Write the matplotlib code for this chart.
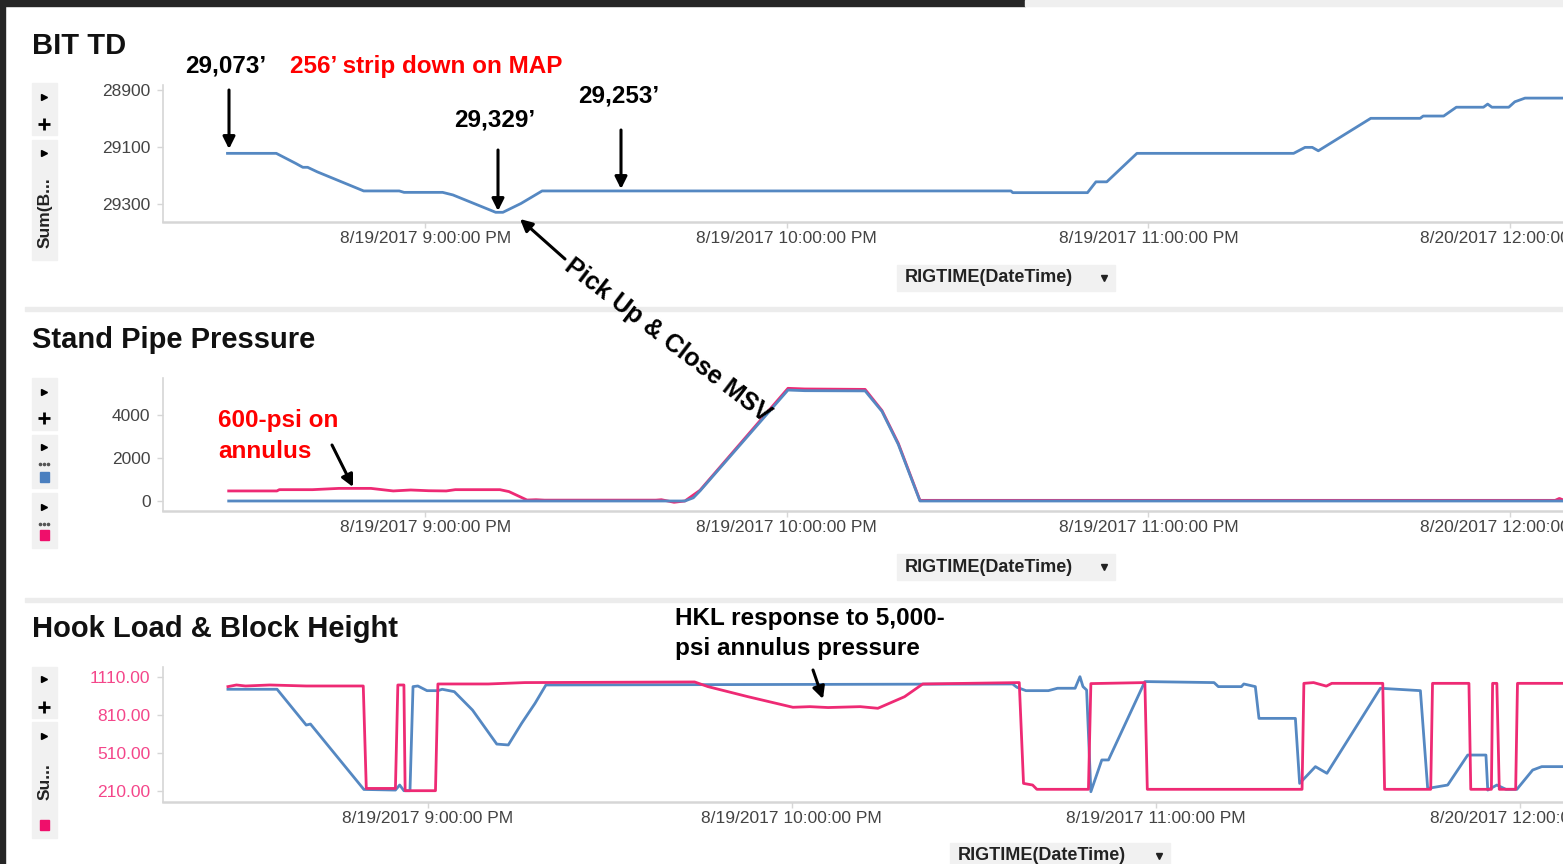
import matplotlib

matplotlib.use("Agg")

import matplotlib.pyplot as plt
from matplotlib.patches import Rectangle

plt.rcParams["font.family"] = ["Liberation Sans", "DejaVu Sans"]

W, H = 1563, 864

# x values: minutes after 8/19/2017 9:00:00 PM
hour_ticks = [0, 60, 120, 180]
hour_labels = [
    "8/19/2017 9:00:00 PM",
    "8/19/2017 10:00:00 PM",
    "8/19/2017 11:00:00 PM",
    "8/20/2017 12:00:00 AM",
]

# BIT TD (ft)
bit_min = [-32.8, -24.7, -21.5, -20.3, -19.5, -17.9, -10.2, -4.3, -3.5, 2.9, 4.6, 11.7, 12.9,
           15.9, 19.4, 97.2, 97.5, 109.9, 111.3, 113.1, 118.1, 144.1, 146.0, 147.2, 148.2, 156.9,
           165.1, 165.6, 169.0, 171.1, 175.6, 176.3, 177.0, 179.8, 180.8, 182.5, 190]
bit_depth = [29121, 29121, 29156, 29170, 29170, 29186, 29253, 29253, 29258, 29258, 29267, 29328, 29328,
             29297, 29253, 29253, 29259, 29259, 29221, 29221, 29121, 29121, 29100, 29100, 29112, 28998,
             28998, 28990, 28990, 28959, 28959, 28948, 28959, 28959, 28940, 28927, 28927]
bit_ticks = [28900, 29100, 29300]

# Stand pipe pressure (psi)
spp_min = [-32.6, 43.1, 44.5, 45.6, 60.2, 63.0, 73.0, 75.8, 78.5, 82.1, 190]
spp_psi = [0, 0, 150, 470, 5190, 5160, 5150, 4190, 2650, 0, 0]
ann_min = [-32.6, -24.6, -24.2, -18.7, -14.3, -9.0, -5.3, -2.4, 0.6, 3.5, 5.0, 12.4, 13.9, 16.9,
           18.4, 19.8, 38.3, 39.2, 41.3, 43.1, 45.6, 60.2, 63.0, 73.0, 75.8, 78.5, 82.1, 187.5,
           188.2, 189]
ann_psi = [470, 470, 530, 530, 590, 590, 470, 515, 480, 470, 530, 530, 440, 45,
           60, 40, 40, 60, -60, 0, 500, 5270, 5240, 5220, 4230, 2700, 30, 30,
           120, 30]
spp_ticks = [0, 2000, 4000]

# Hook load (pink) and block height (blue)
hkl_min = [-32.9, -31.5, -30.0, -26.0, -20.0, -10.6, -10.1, -5.3, -4.9, -3.9, -3.7, 1.3, 1.7, 10.0,
           16.0, 44.0, 46.2, 52.8, 60.2, 63.0, 66.0, 71.3, 74.2, 78.6, 81.6, 97.5, 98.2, 99.7,
           100.4, 108.9, 109.3, 118.2, 118.6, 144.1, 144.4, 146.0, 148.1, 149.0, 157.4, 157.7,
           165.3, 165.6, 171.6, 171.9, 175.3, 175.5, 176.2, 176.6, 179.3, 179.6, 190]
hkl_val = [1036, 1049, 1041, 1049, 1041, 1041, 228, 228, 1049, 1049, 210, 210, 1057, 1057,
           1068, 1073, 1036, 956, 872, 877, 870, 877, 864, 956, 1057, 1068, 268, 255,
           221, 221, 1060, 1068, 221, 221, 1062, 1068, 1040, 1062, 1062, 221,
           221, 1062, 1062, 221, 221, 1062, 1062, 221, 221, 1062, 1062]
blk_min = [-32.9, -24.8, -20.0, -19.3, -10.5, -5.3, -4.6, -3.9, -2.9, -2.4, -1.6, -0.1, 1.7, 2.4,
           4.4, 7.4, 11.4, 13.3, 15.5, 17.7, 19.5, 96.4, 97.1, 98.6, 102.3, 103.8, 106.7, 107.5,
           108.0, 108.6, 109.3, 111.1, 112.2, 118.2, 129.6, 130.3, 134.1, 134.5, 136.4, 137.0,
           143.0, 143.7, 146.3, 148.2, 157.0, 163.6, 164.8, 168.1, 171.4, 174.4, 174.7, 176.2,
           177.7, 179.5, 182.1, 183.6, 190]
blk_val = [1015, 1015, 731, 739, 220, 215, 255, 210, 210, 1036, 1041, 1004, 1004, 1015,
           996, 850, 580, 573, 745, 903, 1049, 1057, 1031, 1004, 1004, 1023, 1023, 1115,
           1036, 1009, 202, 454, 454, 1076, 1068, 1036, 1036, 1057, 1036, 784,
           784, 268, 401, 348, 1023, 1004, 228, 255, 493, 493, 215, 255,
           221, 221, 374, 401, 401]
hkl_ticks = [210, 510, 810, 1110]

BLUE = "#5588c2"
PINK = "#ee2a74"
GRID = "#d6d6d6"


def px_box(left, top, right, bottom):
    return [left / W, 1 - bottom / H, (right - left) / W, (bottom - top) / H]


def style_axes(ax, xlim, ylim, yticks, ylabels, ycolor="#444444"):
    ax.set_xlim(*xlim)
    ax.set_ylim(*ylim)
    for side in ("top", "right"):
        ax.spines[side].set_visible(False)
    ax.spines["left"].set_color(GRID)
    ax.spines["left"].set_linewidth(1.2)
    ax.spines["bottom"].set_color(GRID)
    ax.spines["bottom"].set_linewidth(1.8)
    ax.set_xticks(hour_ticks)
    ax.set_xticklabels(hour_labels)
    ax.set_yticks(yticks)
    ax.set_yticklabels(ylabels)
    ax.tick_params(axis="x", length=4, width=1, color=GRID, labelsize=12.5,
                   labelcolor="#444444", pad=3)
    ax.tick_params(axis="y", length=4, width=1, color=GRID, labelsize=12.5,
                   labelcolor=ycolor, pad=5)


fig = plt.figure(figsize=(W / 100, H / 100), dpi=100)
fig.patch.set_facecolor("white")

ax1 = fig.add_axes(px_box(163, 85, 1563, 221.7))
ax1.plot(bit_min, bit_depth, color=BLUE, lw=2.0)
style_axes(ax1, (-43.5, 188.8), (29361, 28881), bit_ticks, [str(v) for v in bit_ticks])

ax2 = fig.add_axes(px_box(163, 378, 1563, 510.7))
ax2.plot(ann_min, ann_psi, color=PINK, lw=2.0)
ax2.plot(spp_min, spp_psi, color=BLUE, lw=2.0)
style_axes(ax2, (-43.5, 188.8), (-454, 5753), spp_ticks, [str(v) for v in spp_ticks])

ax3 = fig.add_axes(px_box(163, 667, 1563, 801.7))
ax3.plot(blk_min, blk_val, color=BLUE, lw=2.0)
ax3.plot(hkl_min, hkl_val, color=PINK, lw=2.0)
style_axes(ax3, (-43.6, 187.1), (122.7, 1191.7), hkl_ticks,
           [f"{v:.2f}" for v in hkl_ticks], ycolor="#f4468a")

# overlay in pixel coordinates for the dashboard chrome and callouts
ov = fig.add_axes([0, 0, 1, 1], zorder=5)
ov.set_xlim(0, W)
ov.set_ylim(H, 0)
ov.axis("off")
ov.patch.set_alpha(0)

ov.add_patch(Rectangle((0, 0), 1025, 5.5, color="#262626"))
ov.add_patch(Rectangle((1025, 0), W - 1025, 5.5, color="#efefef"))
ov.add_patch(Rectangle((0, 0), 5, H, color="#262626"))
for y in (307, 598):
    ov.add_patch(Rectangle((25, y), W - 25, 4, color="#ececec"))

BOX = "#f1f1f1"
for x, y, w, h in [(32, 83, 25, 52), (32, 140, 25, 120),
                   (32, 378, 25, 52), (32, 435, 25, 53), (32, 493, 25, 55),
                   (32, 667, 25, 51), (32, 722, 25, 116)]:
    ov.add_patch(Rectangle((x, y), w, h, color=BOX))

for y in (97, 153, 392, 447, 507, 679, 736):
    ov.plot(44, y, marker=">", ms=4.5, color="black")
for y in (124, 418, 707):
    ov.plot(44, y, marker="+", ms=8, mew=2, color="black")
for y in (464, 524):
    ov.plot([40, 44, 48], [y, y, y], ls="none", marker="o", ms=1.6, color="#555555")
ov.add_patch(Rectangle((39.5, 471.5), 9.5, 10, color="#4a7fbf"))
ov.add_patch(Rectangle((39.5, 530), 9.5, 10, color="#ef0f6b"))
ov.add_patch(Rectangle((39.5, 820), 9.5, 10, color="#ef0f6b"))
ov.text(45, 213, "Sum(B...", rotation=90, fontsize=12.5, fontweight="bold",
        ha="center", va="center", color="#222222")
ov.text(45, 782, "Su...", rotation=90, fontsize=12.5, fontweight="bold",
        ha="center", va="center", color="#222222")

for bx, by, bw in [(897, 265, 218), (897, 554, 218), (950, 843, 220)]:
    ov.add_patch(Rectangle((bx, by), bw, 26, color=BOX))
    ov.text(bx + 8, by + 13, "RIGTIME(DateTime)", fontsize=13, fontweight="bold",
            ha="left", va="center", color="#222222")
    ov.plot(bx + bw - 11, by + 13, marker="v", ms=4, color="#222222")

for x, y, s in [(32, 46, "BIT TD"), (32, 340, "Stand Pipe Pressure"),
                (32, 629, "Hook Load & Block Height")]:
    ov.text(x, y, s, fontsize=21, fontweight="bold", ha="left", va="center", color="#111111")

NOTE = dict(fontsize=17.5, fontweight="bold", ha="left", va="center")
ov.text(185, 66, "29,073\u2019", color="black", **NOTE)
ov.text(290, 66, "256\u2019 strip down on MAP", color="#ff0000", **NOTE)
ov.text(454, 120, "29,329\u2019", color="black", **NOTE)
ov.text(578, 96, "29,253\u2019", color="black", **NOTE)
ov.text(218, 421, "600-psi on", color="#ff0000", **NOTE)
ov.text(218, 452, "annulus", color="#ff0000", **NOTE)
ov.text(675, 618, "HKL response to 5,000-", color="black", **NOTE)
ov.text(675, 648, "psi annulus pressure", color="black", **NOTE)
ov.text(668, 340, "Pick Up & Close MSV", fontsize=18, fontweight="bold", rotation=-37.5,
        ha="center", va="center", color="black")

ARROW = dict(arrowstyle="-|>", lw=2.2, color="black", mutation_scale=18,
             shrinkA=0, shrinkB=0)
for tail, tip in [((229, 90), (229, 149)), ((498, 150), (498, 211)),
                  ((621, 130), (621, 189)), ((565, 259), (520, 219)),
                  ((332, 445), (353, 487)), ((813, 670), (823, 699))]:
    ov.annotate("", xy=tip, xytext=tail, arrowprops=ARROW)

fig.savefig("out.png", dpi=100)
plt.close(fig)
